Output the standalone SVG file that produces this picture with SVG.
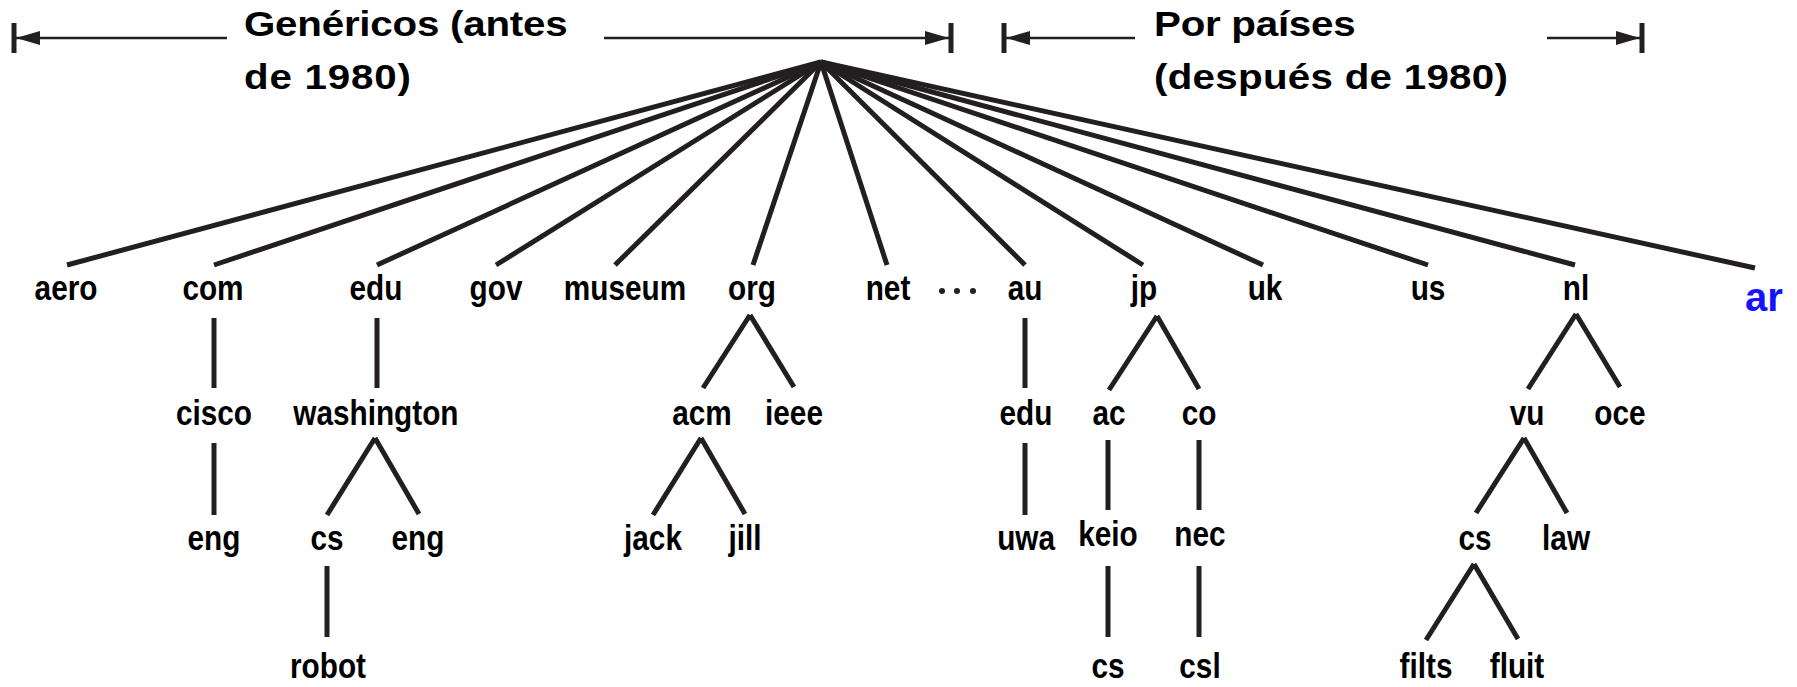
<svg xmlns="http://www.w3.org/2000/svg" width="1797" height="687" viewBox="0 0 1797 687">
  <defs>
    <marker id="head" viewBox="0 0 24 14" refX="24" refY="7" markerWidth="24" markerHeight="14" markerUnits="userSpaceOnUse" orient="auto">
      <path d="M0,0 L24,7 L0,14 Z" fill="#231f20"/>
    </marker>
  </defs>
  <style>
    .lbl{font-family:"Liberation Sans",Arial,sans-serif;font-weight:bold;font-size:35px;fill:#000;text-anchor:middle;
         transform-box:fill-box;transform-origin:50% 50%;transform:scaleX(0.85)}
    .hdr{font-family:"Liberation Sans",Arial,sans-serif;font-weight:bold;font-size:36px;fill:#000;
         transform-box:fill-box;transform-origin:0% 50%;transform:scaleX(1.12)}
    .blue{font-family:"Liberation Sans",Arial,sans-serif;font-weight:bold;font-size:40px;fill:#1414ff;text-anchor:middle}
    .e{stroke:#231f20;stroke-width:5;fill:none}
    .dim{stroke:#231f20;stroke-width:2.5;fill:none}
    .bar{stroke:#231f20;stroke-width:5}
    .dot{fill:#231f20}
  </style>
  <rect width="1797" height="687" fill="#fff"/>

  <!-- range brackets over the two groups of top-level domains -->
  <g id="range-generic">
    <line class="bar" x1="14" y1="23" x2="14" y2="53"/>
    <line class="dim" x1="227" y1="38" x2="16" y2="38" marker-end="url(#head)"/>
    <line class="dim" x1="604" y1="38" x2="949" y2="38" marker-end="url(#head)"/>
    <line class="bar" x1="951" y1="23" x2="951" y2="53"/>
    <text class="hdr" x="244" y="36" textLength="289" lengthAdjust="spacing">Genéricos (antes</text>
    <text class="hdr" x="244" y="89" textLength="149" lengthAdjust="spacing">de 1980)</text>
  </g>
  <g id="range-country">
    <line class="bar" x1="1004" y1="23" x2="1004" y2="53"/>
    <line class="dim" x1="1135" y1="38" x2="1006" y2="38" marker-end="url(#head)"/>
    <line class="dim" x1="1547" y1="38" x2="1640" y2="38" marker-end="url(#head)"/>
    <line class="bar" x1="1642" y1="23" x2="1642" y2="53"/>
    <text class="hdr" x="1154" y="36" textLength="180" lengthAdjust="spacing">Por países</text>
    <text class="hdr" x="1154" y="89" textLength="316" lengthAdjust="spacing">(después de 1980)</text>
  </g>

  <!-- tree edges -->
  <g id="connectors">
    <line class="e" x1="821" y1="62" x2="67" y2="265"/>
    <line class="e" x1="821" y1="62" x2="214" y2="265"/>
    <line class="e" x1="821" y1="62" x2="377" y2="265"/>
    <line class="e" x1="821" y1="62" x2="496" y2="265"/>
    <line class="e" x1="821" y1="62" x2="615" y2="265"/>
    <line class="e" x1="821" y1="62" x2="753" y2="265"/>
    <line class="e" x1="821" y1="62" x2="887" y2="265"/>
    <line class="e" x1="821" y1="62" x2="1025" y2="265"/>
    <line class="e" x1="821" y1="62" x2="1143" y2="265"/>
    <line class="e" x1="821" y1="62" x2="1263" y2="265"/>
    <line class="e" x1="821" y1="62" x2="1428" y2="265"/>
    <line class="e" x1="821" y1="62" x2="1575" y2="265"/>
    <line class="e" x1="821" y1="62" x2="1755" y2="268"/>

    <line class="e" x1="214" y1="318" x2="214" y2="388"/>
    <line class="e" x1="377" y1="318" x2="377" y2="388"/>
    <line class="e" x1="750" y1="315" x2="703" y2="388"/>
    <line class="e" x1="750" y1="315" x2="794" y2="387"/>
    <line class="e" x1="1025" y1="318" x2="1025" y2="388"/>
    <line class="e" x1="1157" y1="316" x2="1109" y2="390"/>
    <line class="e" x1="1157" y1="316" x2="1199" y2="389"/>
    <line class="e" x1="1576" y1="314" x2="1528" y2="389"/>
    <line class="e" x1="1576" y1="314" x2="1620" y2="387"/>

    <line class="e" x1="214" y1="443" x2="214" y2="515"/>
    <line class="e" x1="375" y1="438" x2="327" y2="515"/>
    <line class="e" x1="375" y1="438" x2="419" y2="514"/>
    <line class="e" x1="701" y1="438" x2="653" y2="515"/>
    <line class="e" x1="701" y1="438" x2="745" y2="514"/>
    <line class="e" x1="1025" y1="443" x2="1025" y2="515"/>
    <line class="e" x1="1108" y1="440" x2="1108" y2="510"/>
    <line class="e" x1="1199" y1="440" x2="1199" y2="510"/>
    <line class="e" x1="1524" y1="438" x2="1476" y2="513"/>
    <line class="e" x1="1524" y1="438" x2="1567" y2="513"/>

    <line class="e" x1="327" y1="566" x2="327" y2="637"/>
    <line class="e" x1="1108" y1="566" x2="1108" y2="637"/>
    <line class="e" x1="1199" y1="566" x2="1199" y2="637"/>
    <line class="e" x1="1474" y1="564" x2="1426" y2="640"/>
    <line class="e" x1="1474" y1="564" x2="1518" y2="639"/>
  </g>

  <!-- top-level domains -->
  <g id="aero"><text class="lbl" x="66" y="300">aero</text></g>
  <g id="com"><text class="lbl" x="213" y="300">com</text></g>
  <g id="edu"><text class="lbl" x="376" y="300">edu</text></g>
  <g id="gov"><text class="lbl" x="496" y="300">gov</text></g>
  <g id="museum"><text class="lbl" x="625" y="300">museum</text></g>
  <g id="org"><text class="lbl" x="752" y="300">org</text></g>
  <g id="net"><text class="lbl" x="888" y="300">net</text></g>
  <g id="more">
    <circle class="dot" cx="942" cy="291" r="3"/>
    <circle class="dot" cx="957" cy="291" r="3"/>
    <circle class="dot" cx="973" cy="291" r="3"/>
  </g>
  <g id="au"><text class="lbl" x="1025" y="300">au</text></g>
  <g id="jp"><text class="lbl" x="1144" y="300">jp</text></g>
  <g id="uk"><text class="lbl" x="1265" y="300">uk</text></g>
  <g id="us"><text class="lbl" x="1428" y="300">us</text></g>
  <g id="nl"><text class="lbl" x="1576" y="300">nl</text></g>
  <g id="ar"><text class="blue" x="1764" y="311">ar</text></g>

  <!-- second level -->
  <g id="com-cisco"><text class="lbl" x="214" y="425">cisco</text></g>
  <g id="edu-washington"><text class="lbl" x="376" y="425">washington</text></g>
  <g id="org-acm"><text class="lbl" x="702" y="425">acm</text></g>
  <g id="org-ieee"><text class="lbl" x="794" y="425">ieee</text></g>
  <g id="au-edu"><text class="lbl" x="1026" y="425">edu</text></g>
  <g id="jp-ac"><text class="lbl" x="1109" y="425">ac</text></g>
  <g id="jp-co"><text class="lbl" x="1199" y="425">co</text></g>
  <g id="nl-vu"><text class="lbl" x="1527" y="425">vu</text></g>
  <g id="nl-oce"><text class="lbl" x="1620" y="425">oce</text></g>

  <!-- third level -->
  <g id="cisco-eng"><text class="lbl" x="214" y="550">eng</text></g>
  <g id="washington-cs"><text class="lbl" x="327" y="550">cs</text></g>
  <g id="washington-eng"><text class="lbl" x="418" y="550">eng</text></g>
  <g id="acm-jack"><text class="lbl" x="653" y="550">jack</text></g>
  <g id="acm-jill"><text class="lbl" x="745" y="550">jill</text></g>
  <g id="edu-uwa"><text class="lbl" x="1026" y="550">uwa</text></g>
  <g id="ac-keio"><text class="lbl" x="1108" y="546">keio</text></g>
  <g id="co-nec"><text class="lbl" x="1200" y="546">nec</text></g>
  <g id="vu-cs"><text class="lbl" x="1475" y="550">cs</text></g>
  <g id="vu-law"><text class="lbl" x="1566" y="550">law</text></g>

  <!-- fourth level -->
  <g id="cs-robot"><text class="lbl" x="328" y="678">robot</text></g>
  <g id="keio-cs"><text class="lbl" x="1108" y="678">cs</text></g>
  <g id="nec-csl"><text class="lbl" x="1200" y="678">csl</text></g>
  <g id="cs-filts"><text class="lbl" x="1426" y="678">filts</text></g>
  <g id="cs-fluit"><text class="lbl" x="1517" y="678">fluit</text></g>
</svg>
